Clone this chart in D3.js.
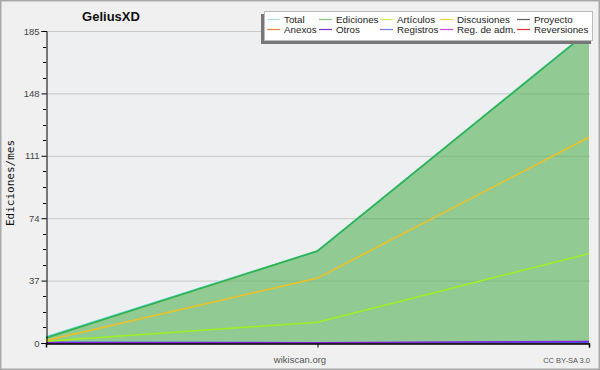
<!DOCTYPE html>
<html>
<head>
<meta charset="utf-8">
<script src="https://cdn.jsdelivr.net/npm/d3@7"></script>
<style>
  body { margin: 0; background: #f0f0f0; }
  svg { display: block; }
</style>
</head>
<body>
<svg id="chart" width="600" height="370"></svg>
<script>
// meses (3 puntos)
const months = [0, 1, 2];
const yTicks = [0, 37, 74, 111, 148, 185];

// series (ediciones/mes)
const total = [3.5, 54.5, 185];
const ediciones = [3, 54.5, 185];
const articulos = [1, 12.3, 53];
const discusiones = [1.5, 38.5, 122];
const proyecto = [0, 0, 0];
const anexos = [0, 0, 0];
const otros = [0.2, 0.2, 1];
const registros = [0.6, 0.3, 0.3];
const regAdm = [0, 0, 0];
const reversiones = [0, 0, 0];

const legendNames = ["Total", "Ediciones", "Artículos", "Discusiones", "Proyecto",
                     "Anexos", "Otros", "Registros", "Reg. de adm.", "Reversiones"];
const legendColors = ["#a8e4e4", "#80c880", "#c8f050", "#f8d040", "#606060",
                      "#f08040", "#8030d0", "#7878f0", "#d040e0", "#e83030"];

const svg = d3.select("#chart");
const W = 600, H = 370;
const pLeft = 46, pRight = 589, pTop = 31, pBottom = 343;

// fondo y marco
svg.append("rect").attr("x", 0.5).attr("y", 0.5).attr("width", W - 1).attr("height", H - 1)
    .attr("fill", "#f0f0f0").attr("stroke", "#a8a8a8").attr("stroke-width", 2);
svg.append("rect").attr("x", pLeft).attr("y", pTop).attr("width", pRight - pLeft + 1).attr("height", pBottom - pTop)
    .attr("fill", "#eeeff1");

const x = d3.scaleLinear().domain([0, 2]).range([pLeft, pRight]);
const y = d3.scaleLinear().domain([0, 185]).range([pBottom, pTop]);

// rejilla
svg.append("g").selectAll("line").data(yTicks.slice(1)).join("line")
    .attr("x1", pLeft).attr("x2", pRight + 1)
    .attr("y1", d => y(d) + 0.5).attr("y2", d => y(d) + 0.5)
    .attr("stroke", "#c8c8c8").attr("stroke-width", 1);

// area de ediciones
const area = d3.area().x((d, i) => x(months[i])).y0(pBottom).y1(d => y(d));
svg.append("path").datum(ediciones).attr("d", area)
    .attr("fill", "#4cae4c").attr("fill-opacity", 0.57);

const line = d3.line().x((d, i) => x(months[i])).y(d => y(d));
const series = [
    [total, "#40d0d0", 2],
    [regAdm, legendColors[8], 1],
    [reversiones, legendColors[9], 1],
    [anexos, legendColors[5], 1],
    [proyecto, legendColors[4], 1],
    [registros, "#5050e0", 1.2],
    [otros, "#8020e8", 1.2],
    [articulos, "#a0f020", 1.5],
    [discusiones, "#f0c020", 1.5],
    [ediciones, "#38b040", 1.5]
];
series.forEach(([data, color, w]) => {
    svg.append("path").datum(data).attr("d", line)
        .attr("fill", "none").attr("stroke", color).attr("stroke-width", w);
});

// ejes
const yAxis = d3.axisLeft(y).tickValues(yTicks).tickSize(5).tickPadding(2);
const gy = svg.append("g").attr("transform", `translate(${pLeft + 0.5},0)`).call(yAxis);
gy.select(".domain").attr("stroke", "#000");
gy.selectAll("text").attr("font-family", "Liberation Sans, Arial, sans-serif")
    .attr("font-size", 9.5).attr("fill", "#444");

// ticks menores
const minor = d3.range(0, 185, 9.25).filter((v, i) => i % 4 !== 0);
svg.append("g").selectAll("line").data(minor).join("line")
    .attr("x1", pLeft - 3).attr("x2", pLeft)
    .attr("y1", d => Math.round(y(d)) + 0.5).attr("y2", d => Math.round(y(d)) + 0.5)
    .attr("stroke", "#000");

const xAxis = d3.axisBottom(x).tickValues([1, 2]).tickSize(4).tickFormat("");
const gx = svg.append("g").attr("transform", `translate(0,${pBottom + 0.5})`).call(xAxis);
gx.select(".domain").attr("stroke", "#000").attr("stroke-width", 1.5);

// textos
svg.append("text").attr("x", 111).attr("y", 21).attr("text-anchor", "middle")
    .attr("font-family", "Liberation Sans, Arial, sans-serif").attr("font-weight", "bold")
    .attr("font-size", 13).attr("fill", "#111").text("GeliusXD");

svg.append("text").attr("transform", `translate(14,183) rotate(-90)`).attr("text-anchor", "middle")
    .attr("font-family", "DejaVu Sans Mono, monospace").attr("font-size", 11)
    .attr("fill", "#111").text("Ediciones/mes");

svg.append("text").attr("x", 300).attr("y", 363).attr("text-anchor", "middle")
    .attr("font-family", "Liberation Sans, Arial, sans-serif").attr("font-size", 9.5)
    .attr("fill", "#555").text("wikiscan.org");

svg.append("text").attr("x", 590).attr("y", 363).attr("text-anchor", "end")
    .attr("font-family", "Liberation Sans, Arial, sans-serif").attr("font-size", 7.5)
    .attr("fill", "#555").text("CC BY-SA 3.0");

// leyenda
const lg = svg.append("g");
lg.append("rect").attr("x", 261).attr("y", 14).attr("width", 330).attr("height", 30).attr("fill", "#777");
lg.append("rect").attr("x", 264.5).attr("y", 11.5).attr("width", 328).attr("height", 29)
    .attr("fill", "#fff").attr("stroke", "#bbb");
const colX = [267, 319, 380, 440, 517];
legendNames.forEach((name, i) => {
    const cx = colX[i % 5], cy = i < 5 ? 19 : 29;
    lg.append("line").attr("x1", cx).attr("x2", cx + 13).attr("y1", cy + 0.5).attr("y2", cy + 0.5)
        .attr("stroke", legendColors[i]).attr("stroke-width", 1.2);
    lg.append("text").attr("x", cx + 17).attr("y", cy + 3.5)
        .attr("font-family", "Liberation Sans, Arial, sans-serif").attr("font-size", 9.8)
        .attr("fill", "#222").text(name);
});
</script>
</body>
</html>
